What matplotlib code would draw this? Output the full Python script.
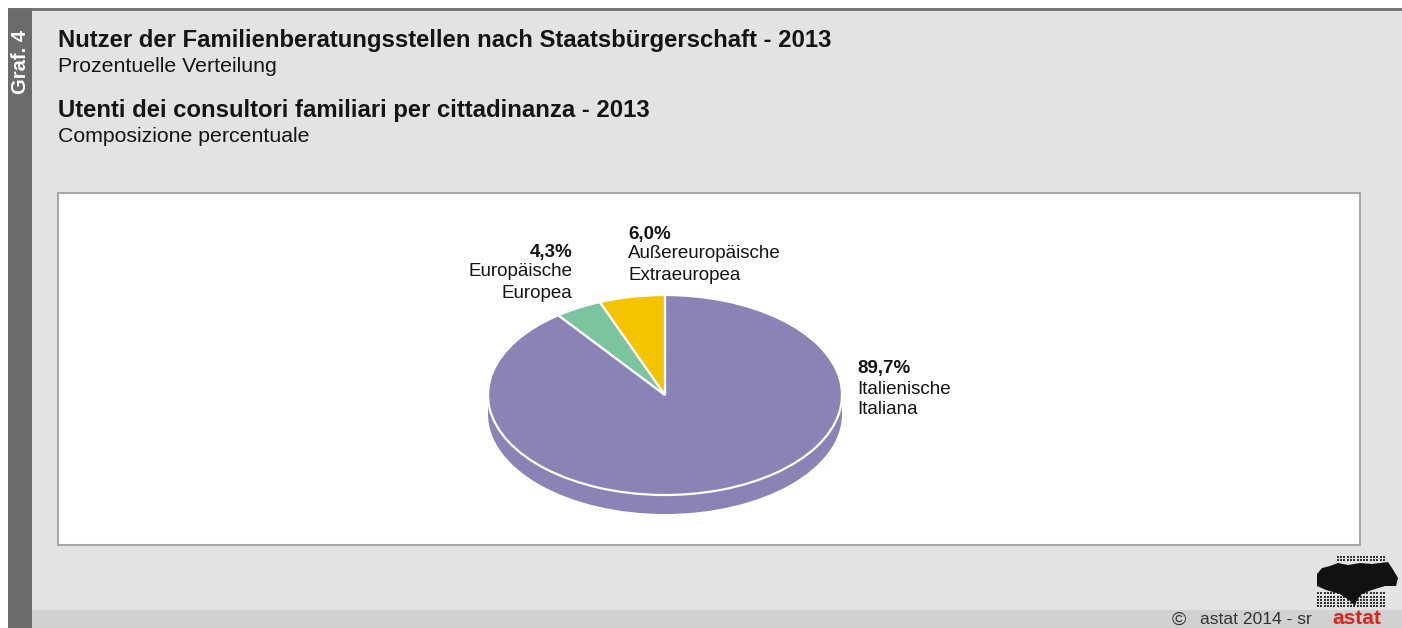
import matplotlib
matplotlib.use("Agg")
import matplotlib.pyplot as plt
from matplotlib.patches import Rectangle, Ellipse, Polygon
import numpy as np

plt.rcParams['font.family'] = ['Liberation Sans', 'DejaVu Sans']

categories_de = ["Italienische", "Europäische", "Außereuropäische"]
categories_it = ["Italiana", "Europea", "Extraeuropea"]
values = [89.7, 4.3, 6.0]
value_labels = ["89,7%", "4,3%", "6,0%"]
colors = ["#8a83b5", "#7bc4a0", "#f5c400"]

W, H = 1402, 628
fig = plt.figure(figsize=(W / 100, H / 100), dpi=100)
fig.patch.set_facecolor("white")

# background axes in pixel coords
bg = fig.add_axes([0, 0, 1, 1])
bg.set_xlim(0, W)
bg.set_ylim(H, 0)
bg.axis("off")

bg.add_patch(Rectangle((8, 8), W - 8, H - 8, facecolor="#e3e3e3", edgecolor="none"))
bg.add_patch(Rectangle((32, 610), W - 32, 18, facecolor="#d1d1d1", edgecolor="none"))
bg.add_patch(Rectangle((8, 8), 24, H - 8, facecolor="#6b6b6b", edgecolor="none"))
bg.plot([8, W], [9, 9], color="#707070", lw=2, solid_capstyle="butt")
bg.add_patch(Rectangle((58, 193), 1302, 352, facecolor="white", edgecolor="#a8a8a8", lw=1.5))

bg.text(21, 62, "Graf. 4", rotation=90, color="white", fontsize=14.5, fontweight="bold",
        ha="center", va="center")

tc = "#141414"
bg.text(58, 41, "Nutzer der Familienberatungsstellen nach Staatsbürgerschaft - 2013",
        fontsize=17.2, fontweight="bold", ha="left", va="center", color=tc)
bg.text(58, 67, "Prozentuelle Verteilung", fontsize=15.3, ha="left", va="center", color=tc)
bg.text(58, 111, "Utenti dei consultori familiari per cittadinanza - 2013",
        fontsize=17.2, fontweight="bold", ha="left", va="center", color=tc)
bg.text(58, 137, "Composizione percentuale", fontsize=15.3, ha="left", va="center", color=tc)

# labels
lbl_fs = 13.5
# Italiana
bg.text(857, 369, value_labels[0], fontsize=lbl_fs, fontweight="bold", ha="left", va="center", color=tc)
bg.text(857, 390, categories_de[0], fontsize=lbl_fs, ha="left", va="center", color=tc)
bg.text(857, 410, categories_it[0], fontsize=lbl_fs, ha="left", va="center", color=tc)
# Europea
bg.text(572, 252, value_labels[1], fontsize=lbl_fs, fontweight="bold", ha="right", va="center", color=tc)
bg.text(572, 272, categories_de[1], fontsize=lbl_fs, ha="right", va="center", color=tc)
bg.text(572, 293, categories_it[1], fontsize=lbl_fs, ha="right", va="center", color=tc)
# Extraeuropea
bg.text(628, 234, value_labels[2], fontsize=lbl_fs, fontweight="bold", ha="left", va="center", color=tc)
bg.text(628, 254, categories_de[2], fontsize=lbl_fs, ha="left", va="center", color=tc)
bg.text(628, 275, categories_it[2], fontsize=lbl_fs, ha="left", va="center", color=tc)

# footer
bg.text(1172, 620, "©", fontsize=14, ha="left", va="center", color="#333333")
bg.text(1200, 620, "astat 2014 - sr", fontsize=12.6, ha="left", va="center", color="#333333")
bg.text(1357, 618, "astat", fontsize=15, fontweight="bold", ha="center", va="center", color="#e2231a")

# logo: dot grid with dark silhouette
gx, gy = np.meshgrid(np.arange(1318, 1386, 3.3), np.arange(557, 608, 3.3))
gx = gx.ravel(); gy = gy.ravel()
keep = ~((gy > 562) & (gy < 590))
keep &= ~((gy < 562) & (gx < 1335))
bg.scatter(gx[keep], gy[keep], s=1.3, color="#333333", marker="s", linewidths=0)
sil = [(1317, 574), (1322, 568), (1330, 566), (1338, 563), (1348, 565), (1360, 563),
       (1372, 564), (1388, 562), (1392, 568), (1398, 578), (1396, 586), (1385, 586),
       (1372, 590), (1362, 594), (1357, 600), (1355, 606), (1349, 600), (1340, 594),
       (1326, 590), (1317, 586)]
bg.add_patch(Polygon(sil, closed=True, facecolor="#111111", edgecolor="none"))

# pie axes: ellipse centre (665,395), rx=177, ry=100 pixels
cx, cy, rx, ry = 665, 395, 177, 100
xm, ym_top, ym_bot = 1.1, 1.1, 1.4
left = cx - rx * xm
width = 2 * rx * xm
top = cy - ry * ym_top
height = ry * (ym_top + ym_bot)
ax = fig.add_axes([left / W, (H - top - height) / H, width / W, height / H])
ax.set_xlim(-xm, xm)
ax.set_ylim(-ym_bot, ym_top)
ax.axis("off")

depth = 0.19
ax.add_patch(Ellipse((0, -depth), 2, 2, facecolor=colors[0], edgecolor="none", zorder=1))
ax.add_patch(Rectangle((-1, -depth), 2, depth, facecolor=colors[0], edgecolor="none", zorder=1))
wedges, _ = ax.pie(values, colors=colors, startangle=90, counterclock=False,
                   radius=1, center=(0, 0), frame=True,
                   wedgeprops=dict(edgecolor="white", linewidth=1.6, zorder=2))
ax.set_aspect("auto")
ax.set_xlim(-xm, xm)
ax.set_ylim(-ym_bot, ym_top)
ax.axis("off")

fig.savefig("out.png", dpi=100)
